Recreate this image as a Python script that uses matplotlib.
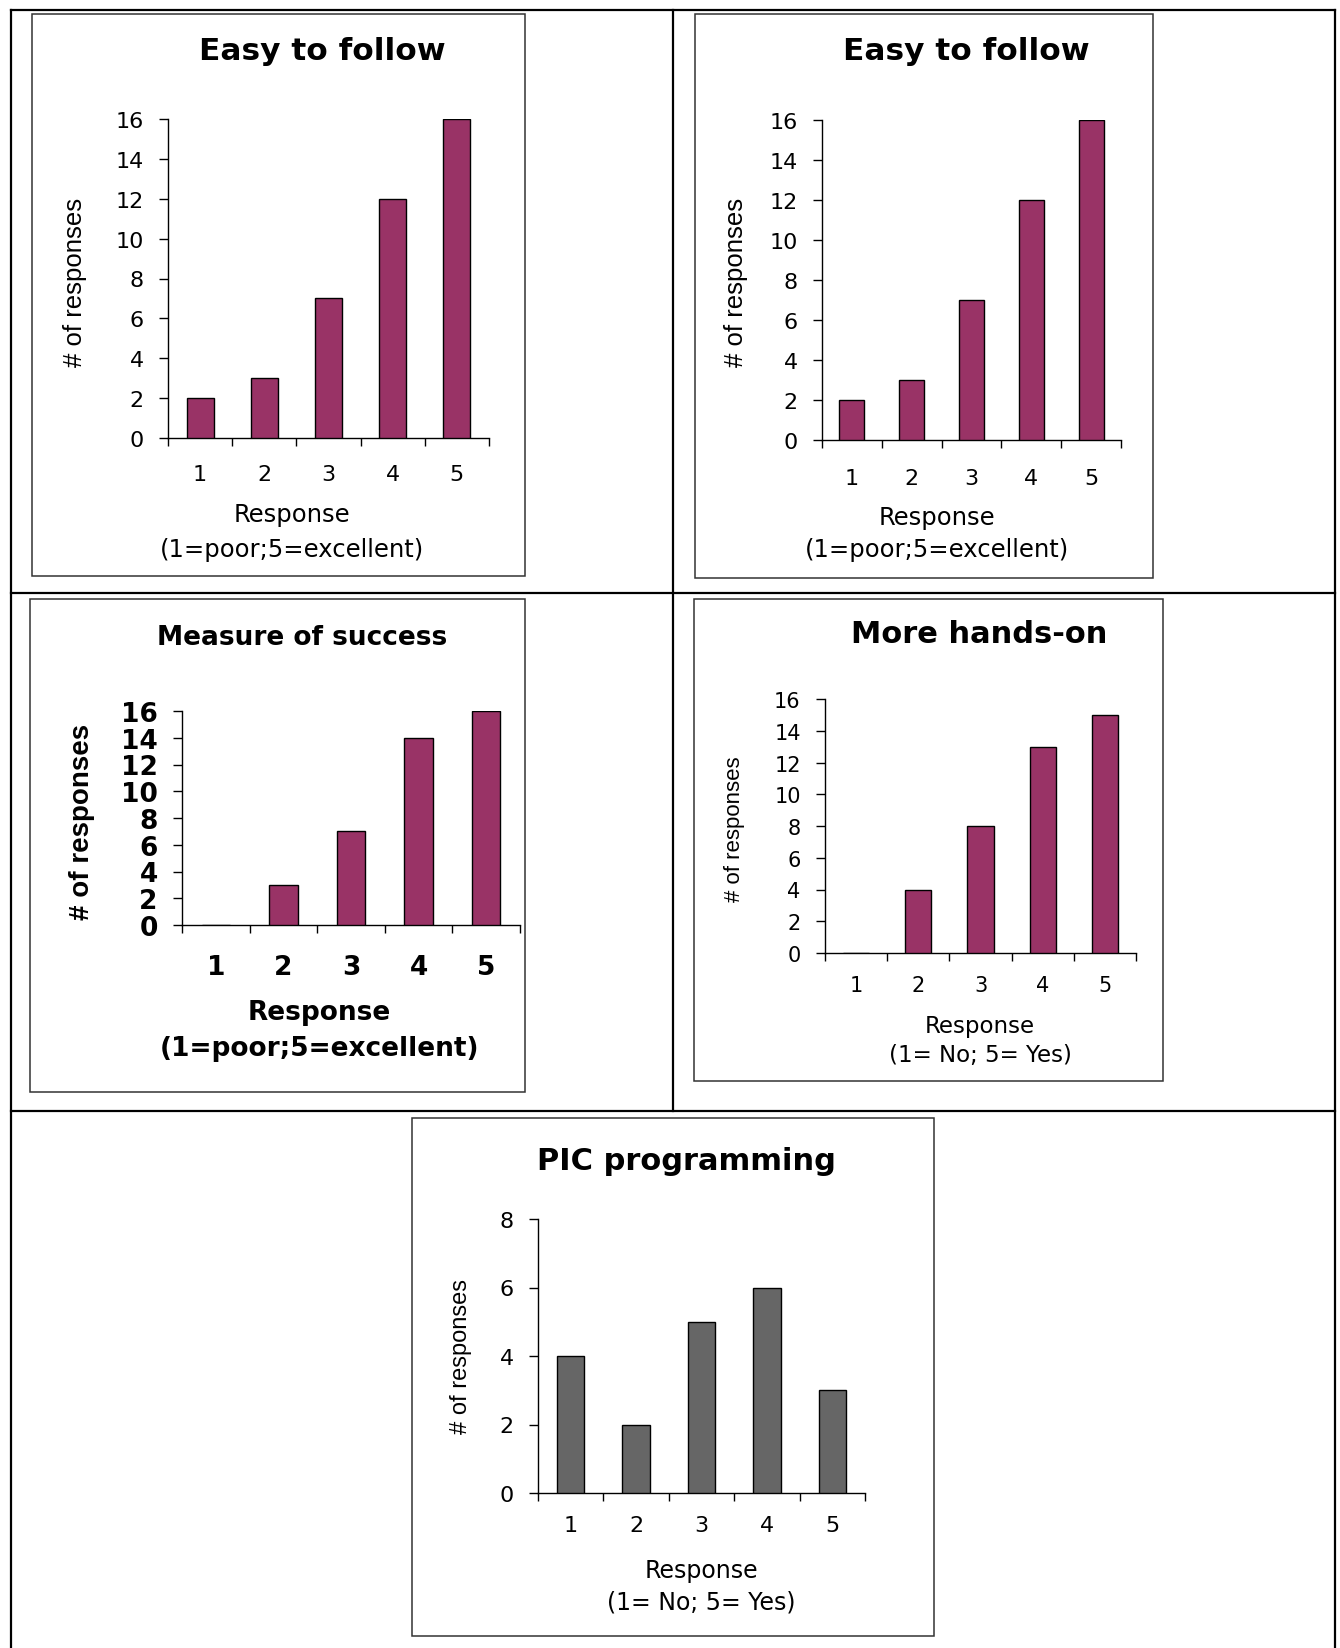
import numpy as np
import matplotlib.pyplot as plt
from matplotlib.lines import Line2D
from matplotlib.patches import Rectangle

W, H = 1340, 1649

categories = [1, 2, 3, 4, 5]
easy_follow_a = [2, 3, 7, 12, 16]
easy_follow_b = [2, 3, 7, 12, 16]
measure_success = [0, 3, 7, 14, 16]
hands_on = [0, 4, 8, 13, 15]
pic_programming = [4, 2, 5, 6, 3]

PLUM = '#993366'
GREY = '#666666'
NARROW = ['Liberation Sans', 'DejaVu Sans']


def fx(px):
    return px / W


def fy(py):
    return 1 - py / H


def frame(fig, x0, y0, x1, y1):
    fig.add_artist(Rectangle((fx(x0), fy(y1)), fx(x1) - fx(x0), fy(y0) - fy(y1),
                             transform=fig.transFigure, fill=False,
                             edgecolor='#333333', lw=1.1))


def hline(fig, x0, x1, y):
    fig.add_artist(Line2D([fx(x0), fx(x1)], [fy(y), fy(y)], transform=fig.transFigure,
                          color='black', lw=1.6))


def vline(fig, x, y0, y1):
    fig.add_artist(Line2D([fx(x), fx(x)], [fy(y0), fy(y1)], transform=fig.transFigure,
                          color='black', lw=1.6))


def makeChart(fig, cfg):
    x0, ytop, x1, y0 = cfg['axes']
    ax = fig.add_axes([fx(x0), fy(y0), fx(x1) - fx(x0), fy(ytop) - fy(y0)])
    ax.bar(categories, cfg['values'], width=0.42, color=cfg['color'],
           edgecolor='black', lw=1.0, zorder=3)
    ax.set_xlim(0.5, 5.5)
    ax.set_ylim(0, cfg['ymax'])
    ax.set_yticks(np.arange(0, cfg['ymax'] + 1, 2))
    ax.set_xticks(np.arange(0.5, 6.0, 1.0))
    ax.set_xticklabels([])
    ax.set_xticks(categories, minor=True)
    ax.set_xticklabels([str(c) for c in categories], minor=True)
    for s in ('top', 'right'):
        ax.spines[s].set_visible(False)
    for s in ('left', 'bottom'):
        ax.spines[s].set_linewidth(1.0)
    weight = cfg.get('weight', 'normal')
    ax.tick_params(axis='y', direction='out', length=6.5, width=1.0, pad=cfg['ypad'],
                   labelsize=cfg['ticksize'])
    ax.tick_params(axis='x', which='major', direction='out', length=6, width=1.0)
    ax.tick_params(axis='x', which='minor', length=0, pad=cfg['xpad'],
                   labelsize=cfg['ticksize'])
    for lab in ax.get_yticklabels() + ax.get_xticklabels(minor=True):
        lab.set_fontweight(weight)

    tx, ty = cfg['title_pos']
    fig.text(fx(tx), fy(ty), cfg['title'], ha='center', va='center',
             fontsize=cfg['title_size'], fontweight='bold')
    lx, ly = cfg['ylabel_pos']
    fig.text(fx(lx), fy(ly), '# of responses', rotation=90, ha='center', va='center',
             fontsize=cfg['ylabel_size'], fontweight=weight, family=NARROW)
    rx, ry1, ry2 = cfg['xlabel_pos']
    fig.text(fx(rx), fy(ry1), 'Response', ha='center', va='center',
             fontsize=cfg['xlabel_size'], fontweight=weight)
    fig.text(fx(rx), fy(ry2), cfg['scale'], ha='center', va='center',
             fontsize=cfg['xlabel_size'], fontweight=weight)
    return ax


charts = [
    dict(values=easy_follow_a, color=PLUM, ymax=16, title='Easy to follow',
         scale='(1=poor;5=excellent)', axes=(168, 120, 489, 439),
         title_pos=(322, 52), title_size=22.5, ylabel_pos=(75, 282), ylabel_size=18.5,
         xlabel_pos=(292, 515, 550), xlabel_size=17.5, ticksize=16, ypad=11, xpad=19,
         box=(32, 15, 525, 577)),
    dict(values=easy_follow_b, color=PLUM, ymax=16, title='Easy to follow',
         scale='(1=poor;5=excellent)', axes=(822, 121, 1121, 441),
         title_pos=(966, 52), title_size=22.5, ylabel_pos=(736, 282), ylabel_size=18.5,
         xlabel_pos=(937, 518, 550), xlabel_size=17.5, ticksize=16, ypad=11, xpad=20,
         box=(695, 15, 1153, 579)),
    dict(values=measure_success, color=PLUM, ymax=16, title='Measure of success',
         scale='(1=poor;5=excellent)', axes=(182, 712, 520, 926),
         title_pos=(302, 638), title_size=19, ylabel_pos=(82, 822), ylabel_size=20,
         xlabel_pos=(319, 1013, 1049), xlabel_size=19, ticksize=19, ypad=11, xpad=21,
         weight='bold', box=(30, 600, 525, 1093)),
    dict(values=hands_on, color=PLUM, ymax=16, title='More hands-on',
         scale='(1= No; 5= Yes)', axes=(825, 700, 1136, 954),
         title_pos=(979, 635), title_size=22, ylabel_pos=(734, 829), ylabel_size=16,
         xlabel_pos=(980, 1026, 1056), xlabel_size=16.5, ticksize=15, ypad=11, xpad=16,
         box=(694, 600, 1163, 1082)),
    dict(values=pic_programming, color=GREY, ymax=8, title='PIC programming',
         scale='(1= No; 5= Yes)', axes=(538, 1220, 865, 1494),
         title_pos=(686, 1162), title_size=22, ylabel_pos=(461, 1357), ylabel_size=17,
         xlabel_pos=(701, 1571, 1603), xlabel_size=17, ticksize=16, ypad=11, xpad=16,
         box=(412, 1119, 934, 1637)),
]

fig = plt.figure(figsize=(W / 100, H / 100), dpi=100)
fig.patch.set_facecolor('white')

# table grid around the charts
vline(fig, 11, 11, H)
vline(fig, 1335, 11, H)
hline(fig, 11, 1335, 11)
hline(fig, 11, 1335, 594)
hline(fig, 11, 1335, 1112)
vline(fig, 673, 11, 1112)

for cfg in charts:
    frame(fig, *cfg['box'])
    makeChart(fig, cfg)

plt.savefig('out.png', dpi=100)
